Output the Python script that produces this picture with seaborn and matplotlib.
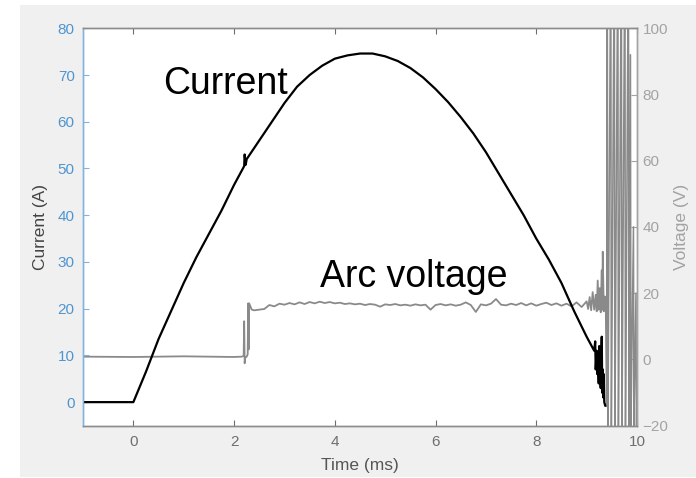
import matplotlib
matplotlib.use("Agg")
import matplotlib.pyplot as plt
import seaborn as sns
from matplotlib.patches import Rectangle

# ============================
# Data
# ============================

# current trace (A) vs time (ms)
current_t = [-1.0, 0.0, 0.25, 0.5, 0.75, 1.0, 1.25, 1.5, 1.75, 2.0, 2.2, 2.21, 2.23, 2.25,
             2.5, 2.75, 3.0, 3.25, 3.5, 3.75, 4.0, 4.25, 4.5, 4.75, 5.0, 5.25, 5.5, 5.75,
             6.0, 6.25, 6.5, 6.75, 7.0, 7.25, 7.5, 7.75, 8.0, 8.25, 8.5, 8.75, 9.0, 9.1,
             9.15, 9.17, 9.18, 9.2, 9.21, 9.22, 9.24, 9.25, 9.26, 9.28, 9.29, 9.3, 9.31,
             9.32, 9.33, 9.34, 9.35, 9.37]
current_a = [0.0, 0.0, 6.5, 13.5, 19.5, 25.5, 31.0, 36.0, 41.0, 46.5, 50.5, 53.0, 50.8, 52.0,
             56.0, 60.0, 64.0, 67.5, 70.0, 72.0, 73.5, 74.2, 74.6, 74.6, 74.0, 73.0, 71.5, 69.5,
             67.0, 64.2, 61.0, 57.5, 53.5, 49.0, 44.5, 40.0, 35.0, 30.5, 25.5, 19.5, 14.0, 12.0,
             11.0, 13.0, 7.0, 11.0, 6.0, 10.0, 4.0, 12.0, 6.0, 3.0, 9.0, 14.0, 2.0,
             7.0, 1.0, 6.0, 0.0, -0.8]

# arc voltage trace (V) vs time (ms)
voltage_t = [-1.0, 0.0, 1.0, 2.0, 2.15, 2.19, 2.2, 2.21, 2.22, 2.25, 2.27, 2.28, 2.29, 2.3, 2.35,
             2.4, 2.5, 2.6, 2.7, 2.8, 2.9, 3.0, 3.1, 3.2, 3.3, 3.4, 3.5, 3.6, 3.7, 3.8, 3.9,
             4.0, 4.1, 4.2, 4.3, 4.4, 4.5, 4.6, 4.7, 4.8, 4.9, 5.0, 5.1, 5.2, 5.3, 5.4, 5.5,
             5.6, 5.7, 5.8, 5.9, 6.0, 6.1, 6.2, 6.3, 6.4, 6.5, 6.6, 6.7, 6.8, 6.9, 7.0, 7.1,
             7.2, 7.3, 7.4, 7.5, 7.6, 7.7, 7.8, 7.9, 8.0, 8.1, 8.2, 8.3, 8.4, 8.5, 8.6, 8.7,
             8.8, 8.9, 9.0, 9.03, 9.06, 9.09, 9.12, 9.15, 9.18, 9.2, 9.22, 9.24, 9.26, 9.28,
             9.3, 9.31, 9.32, 9.34, 9.36, 9.38, 9.4]
voltage_v = [0.8, 0.7, 0.9, 0.7, 0.8, 1.0, 11.5, -1.2, 0.5, 0.8, 1.5, 16.9, 3.0, 16.9, 15.0,
             14.8, 15.0, 15.2, 16.4, 16.0, 16.8, 16.5, 17.0, 16.6, 17.2, 16.7, 17.3, 16.9, 17.4, 17.0, 17.3,
             16.9, 17.1, 16.7, 16.9, 16.6, 16.8, 16.4, 16.7, 16.5, 15.9, 16.6, 16.4, 16.7, 16.3, 16.5, 16.2,
             16.6, 16.3, 16.5, 15.0, 16.4, 16.7, 16.3, 16.6, 16.2, 16.5, 17.2, 16.4, 14.3, 16.6, 16.3, 16.8,
             18.2, 16.5, 16.3, 16.8, 16.4, 17.0, 16.3, 16.9, 16.2, 16.7, 17.1, 16.4, 16.9, 16.2, 16.8, 16.0,
             17.2, 15.8, 17.5, 15.2, 18.8, 14.8, 20.3, 15.0, 19.5, 14.5, 23.8, 15.0, 21.5, 14.2,
             26.9, 15.0, 32.5, 14.5, 19.0, 16.0, -14.2]

# breakdown oscillation after the arc goes out (V)
burst_t = [9.4, 9.41, 9.42, 9.425, 9.48, 9.49, 9.495, 9.55, 9.56, 9.565, 9.62, 9.63, 9.635,
           9.69, 9.7, 9.705, 9.76, 9.77, 9.775, 9.83, 9.84, 9.845, 9.87, 9.88, 9.885,
           9.93, 9.94, 9.945, 9.98, 9.99, 9.995, 10.0]
burst_v = [-14.2, 130.0, -30.0, -14.2, 130.0, -30.0, -14.2, 130.0, -30.0, -14.2, 130.0, -30.0, -14.2,
           130.0, -30.0, -14.2, 130.0, -30.0, -14.2, 130.0, -30.0, -14.2, 92.0, -30.0, -14.2,
           40.0, -30.0, -14.2, 20.0, -30.0, -14.2, -14.2]

x_ticks = [0, 2, 4, 6, 8, 10]
current_ticks = [0, 10, 20, 30, 40, 50, 60, 70, 80]
voltage_ticks = [-20, 0, 20, 40, 60, 80, 100]


def main():
    sns.set_style("white")
    plt.rcParams['font.family'] = ['Liberation Sans', 'DejaVu Sans']

    blue_lbl = '#4f95cf'
    blue_spine = '#82b4de'
    grey_r = '#a3a3a3'
    grey_x = '#6e6e6e'

    fig = plt.figure(figsize=(6.96, 4.78), dpi=100, facecolor='white')
    # light grey panel like the exported figure window
    fig.patches.append(Rectangle((20 / 696, 1 / 478), 676 / 696, 472 / 478,
                                 transform=fig.transFigure, facecolor='#f0f0f0',
                                 edgecolor='none', zorder=-10))

    ax = fig.add_axes([83 / 696, 1 - 425.5 / 478, 554 / 696, 397.2 / 478])
    ax2 = ax.twinx()

    sns.lineplot(x=voltage_t, y=voltage_v, ax=ax2, color='#8a8a8a', linewidth=1.3,
                 estimator=None, sort=False)
    sns.lineplot(x=burst_t, y=burst_v, ax=ax2, color='#8a8a8a', linewidth=1.1,
                 estimator=None, sort=False)
    # current trace sits on top of the voltage trace
    ax.set_zorder(ax2.get_zorder() + 1)
    ax.patch.set_visible(False)
    ax2.patch.set_visible(True)
    ax2.patch.set_facecolor('white')
    sns.lineplot(x=current_t, y=current_a, ax=ax, color='black', linewidth=1.6,
                 estimator=None, sort=False)

    ax.set_xlim(-1, 10)
    ax.set_ylim(-5, 80)
    ax2.set_ylim(-20, 100)
    ax.set_xticks(x_ticks)
    ax.set_yticks(current_ticks)
    ax2.set_yticks(voltage_ticks)

    ax.tick_params(axis='x', direction='in', length=4, width=0.8, colors=grey_x,
                   labelsize=11, pad=7, top=True, bottom=True)
    ax.tick_params(axis='y', direction='in', length=4, width=0.8, colors=blue_spine,
                   labelcolor=blue_lbl, labelsize=11, pad=6, right=False)
    ax2.tick_params(axis='y', direction='in', length=4, width=0.8, colors=grey_r,
                    labelcolor=grey_r, labelsize=11, pad=4)

    for a in (ax, ax2):
        for s in a.spines.values():
            s.set_linewidth(1.0)
        a.spines['bottom'].set_color('#8c8c8c')
        a.spines['top'].set_color('#8c8c8c')
        a.spines['left'].set_color(blue_spine)
        a.spines['right'].set_color(grey_r)

    ax.set_xlabel('Time (ms)', fontsize=12.5, color='#555555', va='center')
    ax.xaxis.set_label_coords(0.5, -0.1)
    ax.set_ylabel('Current (A)', fontsize=12.5, color='#444444', va='center')
    ax.yaxis.set_label_coords(-0.076, 0.5)
    ax2.set_ylabel('Voltage (V)', fontsize=12.5, color=grey_r, va='center')
    ax2.yaxis.set_label_coords(1.08, 0.5)

    ax.text(0.6, 65.9, 'Current', fontsize=27, color='black', ha='left', va='baseline')
    ax.text(3.71, 24.6, 'Arc voltage', fontsize=27, color='black', ha='left', va='baseline')

    fig.savefig('out.png', dpi=100, facecolor='white')
    plt.close(fig)


if __name__ == "__main__":
    main()
